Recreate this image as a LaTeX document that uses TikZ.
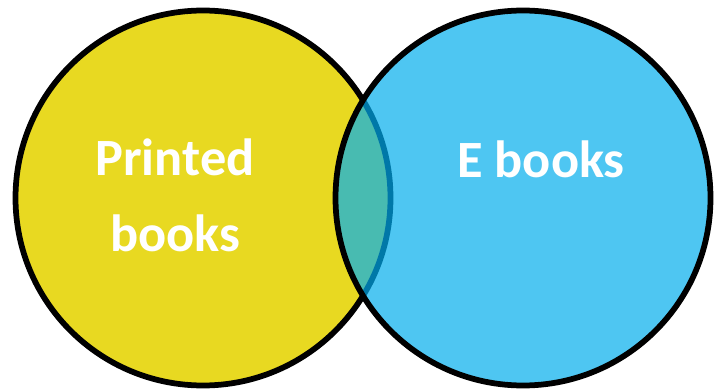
\documentclass[tikz,border=0pt]{standalone}
\usepackage{fontspec}
\setmainfont{Carlito}
\definecolor{Y1}{RGB}{232,217,33}
\definecolor{B1}{RGB}{78,198,242}
\definecolor{T1}{RGB}{72,187,177}
\definecolor{D1}{RGB}{0,120,168}
\tikzset{ring/.style={line width=0.115cm},
         label/.style={text=white, font=\bfseries\fontsize{29.8}{43.8}\selectfont, align=center, anchor=base}}
\begin{document}
\begin{tikzpicture}[x=0.02cm, y=-0.02cm]
      \useasboundingbox (0, 0) rectangle (716, 391);
      \fill[Y1] (203, 198) circle (187.5);
      \draw[ring] (203, 198) circle (187.5);
      \fill[B1] (523, 198) circle (187.5);
      \begin{scope}
        \clip (523, 198) circle (187.5);
        \fill[T1] (203, 198) circle (187.5);
        \draw[ring, D1] (203, 198) circle (187.5);
      \end{scope}
      \draw[ring] (523, 198) circle (187.5);
      \node[label] (print) at (175, 252) {Printed\\books};
      \node[label] (ebook) at (541, 178) {E books};
    \end{tikzpicture}
\end{document}
